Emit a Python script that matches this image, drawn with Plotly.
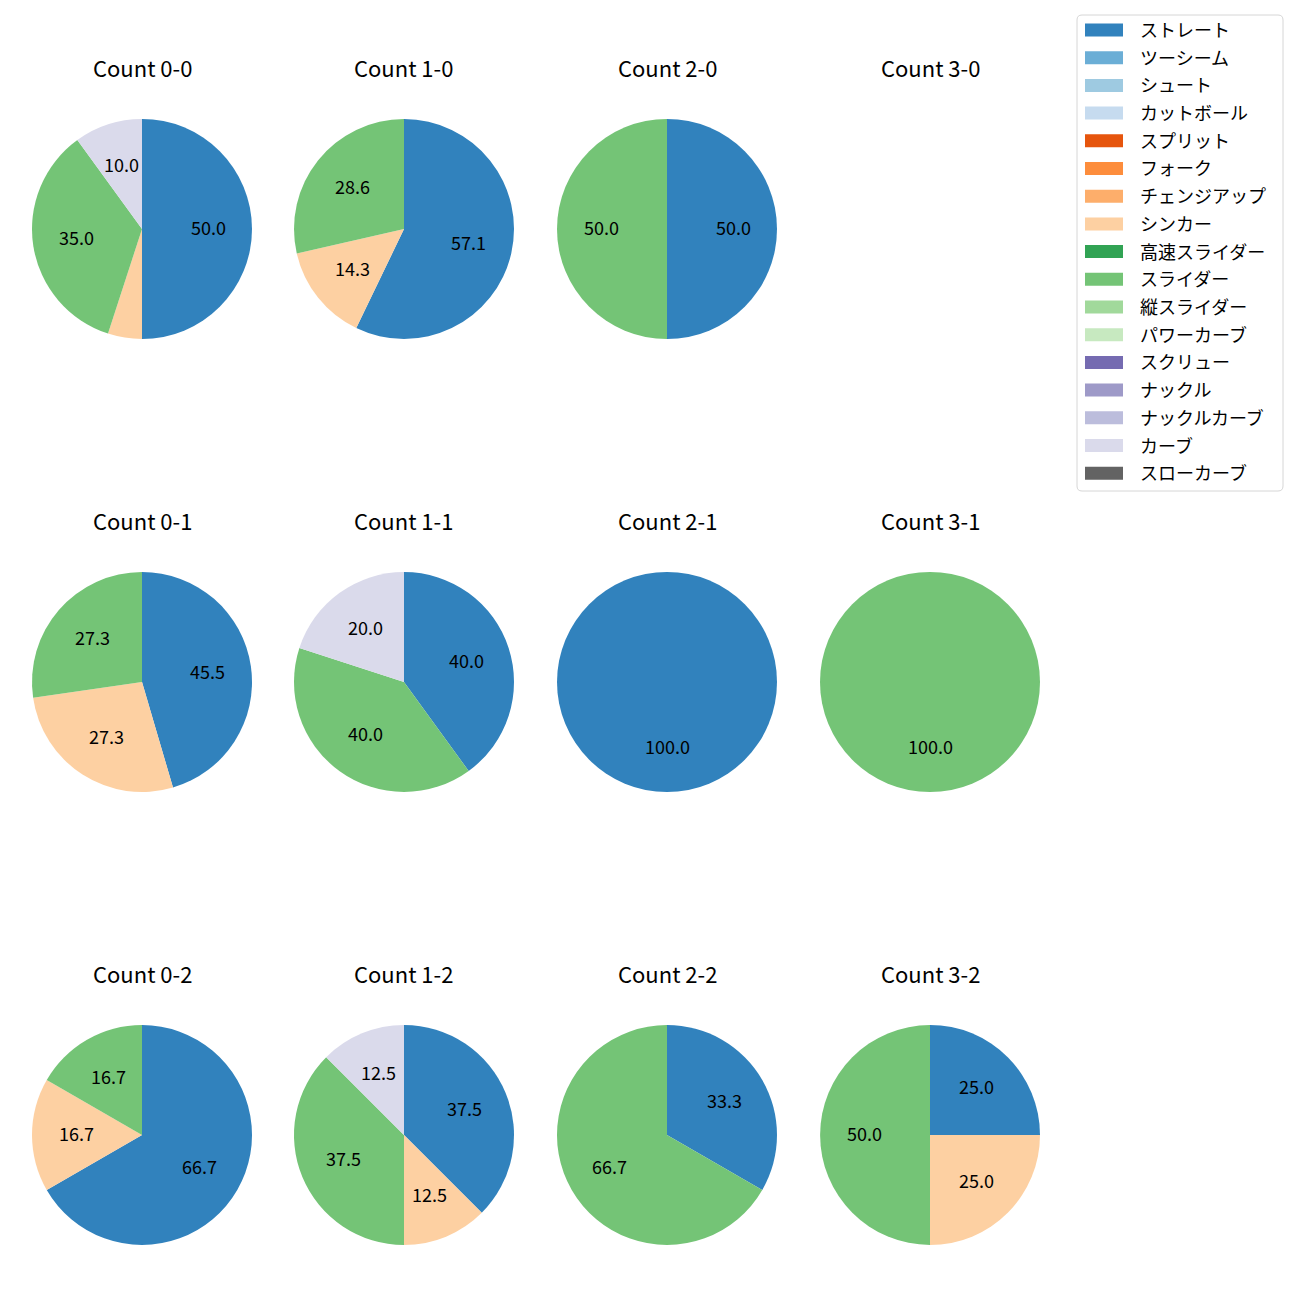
import math
import plotly.graph_objects as go

# ---- data ----
pitch_types = ["ストレート", "ツーシーム", "シュート", "カットボール", "スプリット", "フォーク",
               "チェンジアップ", "シンカー", "高速スライダー", "スライダー", "縦スライダー",
               "パワーカーブ", "スクリュー", "ナックル", "ナックルカーブ", "カーブ", "スローカーブ"]
pitch_colors = ["#3182bd", "#6baed6", "#9ecae1", "#c6dbef", "#e6550d", "#fd8d3c",
                "#fdae6b", "#fdd0a2", "#31a354", "#74c476", "#a1d99b", "#c7e9c0",
                "#756bb1", "#9e9ac8", "#bcbddc", "#dadaeb", "#636363"]

balls = [0, 1, 2, 3]
strikes = [0, 1, 2]

# pitch counts per ball-strike count, aligned with pitch_types
#                 St Tw Sh Ct Sp Fk Ch Si HS Sl VS PC Sc Kn KC Cu SC
count_0_0 = [10, 0, 0, 0, 0, 0, 0, 1, 0, 7, 0, 0, 0, 0, 0, 2, 0]
count_1_0 = [4, 0, 0, 0, 0, 0, 0, 1, 0, 2, 0, 0, 0, 0, 0, 0, 0]
count_2_0 = [1, 0, 0, 0, 0, 0, 0, 0, 0, 1, 0, 0, 0, 0, 0, 0, 0]
count_3_0 = [0, 0, 0, 0, 0, 0, 0, 0, 0, 0, 0, 0, 0, 0, 0, 0, 0]
count_0_1 = [5, 0, 0, 0, 0, 0, 0, 3, 0, 3, 0, 0, 0, 0, 0, 0, 0]
count_1_1 = [2, 0, 0, 0, 0, 0, 0, 0, 0, 2, 0, 0, 0, 0, 0, 1, 0]
count_2_1 = [1, 0, 0, 0, 0, 0, 0, 0, 0, 0, 0, 0, 0, 0, 0, 0, 0]
count_3_1 = [0, 0, 0, 0, 0, 0, 0, 0, 0, 1, 0, 0, 0, 0, 0, 0, 0]
count_0_2 = [4, 0, 0, 0, 0, 0, 0, 1, 0, 1, 0, 0, 0, 0, 0, 0, 0]
count_1_2 = [3, 0, 0, 0, 0, 0, 0, 1, 0, 3, 0, 0, 0, 0, 0, 1, 0]
count_2_2 = [1, 0, 0, 0, 0, 0, 0, 0, 0, 2, 0, 0, 0, 0, 0, 0, 0]
count_3_2 = [1, 0, 0, 0, 0, 0, 0, 1, 0, 2, 0, 0, 0, 0, 0, 0, 0]

count_data = {
    (0, 0): count_0_0, (1, 0): count_1_0, (2, 0): count_2_0, (3, 0): count_3_0,
    (0, 1): count_0_1, (1, 1): count_1_1, (2, 1): count_2_1, (3, 1): count_3_1,
    (0, 2): count_0_2, (1, 2): count_1_2, (2, 2): count_2_2, (3, 2): count_3_2,
}

# ---- layout (pixels) ----
W = H = 1300
col_cx = [142, 404, 667, 930]
row_cy = [229, 682, 1135]
R = 110
FONT = "Noto Sans CJK JP, Noto Sans, sans-serif"
TEXT_DY = -2  # small vertical correction for text baseline


def px_x(x):
    return x / W


def px_y(y):
    return 1 - y / H


fig = go.Figure()
annotations = []
shapes = []

for s in strikes:
    for b in balls:
        cx, cy = col_cx[b], row_cy[s]
        annotations.append(dict(
            x=px_x(cx), y=px_y(cy - 160 + TEXT_DY), xref="paper", yref="paper",
            text=f"Count {b}-{s}", showarrow=False,
            font=dict(size=22, color="black", family=FONT),
            xanchor="center", yanchor="middle"))
        vals = count_data[(b, s)]
        total = sum(vals)
        if total == 0:
            continue
        labels = [p for p, v in zip(pitch_types, vals) if v > 0]
        values = [v for v in vals if v > 0]
        colors = [c for c, v in zip(pitch_colors, vals) if v > 0]
        fig.add_trace(go.Pie(
            labels=labels, values=values, sort=False, direction="clockwise",
            rotation=0, textinfo="none", showlegend=False,
            marker=dict(colors=colors, line=dict(width=0)),
            domain=dict(x=[px_x(cx - R), px_x(cx + R)],
                        y=[px_y(cy + R), px_y(cy - R)]),
        ))
        cum = 0
        for v in values:
            pct = 100 * v / total
            mid = 90 - 360 * (cum + v / 2) / total
            cum += v
            if pct <= 5:
                continue
            tx = cx + 0.6 * R * math.cos(math.radians(mid))
            ty = cy - 0.6 * R * math.sin(math.radians(mid))
            annotations.append(dict(
                x=px_x(tx), y=px_y(ty + TEXT_DY), xref="paper", yref="paper",
                text=f"{pct:.1f}", showarrow=False,
                font=dict(size=18, color="black", family=FONT),
                xanchor="center", yanchor="middle"))

# ---- legend (drawn in the figure's upper right) ----
LX0, LX1, LY0, LY1 = 1077, 1283, 15, 491
rad = 5
path = (f"M {px_x(LX0 + rad)},{px_y(LY0)} L {px_x(LX1 - rad)},{px_y(LY0)} "
        f"Q {px_x(LX1)},{px_y(LY0)} {px_x(LX1)},{px_y(LY0 + rad)} "
        f"L {px_x(LX1)},{px_y(LY1 - rad)} Q {px_x(LX1)},{px_y(LY1)} {px_x(LX1 - rad)},{px_y(LY1)} "
        f"L {px_x(LX0 + rad)},{px_y(LY1)} Q {px_x(LX0)},{px_y(LY1)} {px_x(LX0)},{px_y(LY1 - rad)} "
        f"L {px_x(LX0)},{px_y(LY0 + rad)} Q {px_x(LX0)},{px_y(LY0)} {px_x(LX0 + rad)},{px_y(LY0)} Z")
shapes.append(dict(type="path", path=path, xref="paper", yref="paper",
                   line=dict(color="#d6d6d6", width=1), fillcolor="white", layer="above"))
first_y, step = 30, 27.7
for i, (p, c) in enumerate(zip(pitch_types, pitch_colors)):
    yc = first_y + i * step
    shapes.append(dict(type="rect", xref="paper", yref="paper",
                       x0=px_x(1085), x1=px_x(1123), y0=px_y(yc + 6.5), y1=px_y(yc - 6.5),
                       fillcolor=c, line=dict(width=0), layer="above"))
    annotations.append(dict(
        x=px_x(1138), y=px_y(yc - 1), xref="paper", yref="paper", text=p,
        showarrow=False, xanchor="left", yanchor="middle",
        font=dict(size=18, color="black", family=FONT)))

fig.update_layout(
    width=W, height=H,
    margin=dict(l=0, r=0, t=0, b=0),
    paper_bgcolor="white", plot_bgcolor="white",
    showlegend=False,
    annotations=annotations,
    shapes=shapes,
    font=dict(family=FONT, size=14, color="black"),
)

fig.write_html("out.html", config={"displayModeBar": False},
               post_script="document.body.style.margin='0';")
